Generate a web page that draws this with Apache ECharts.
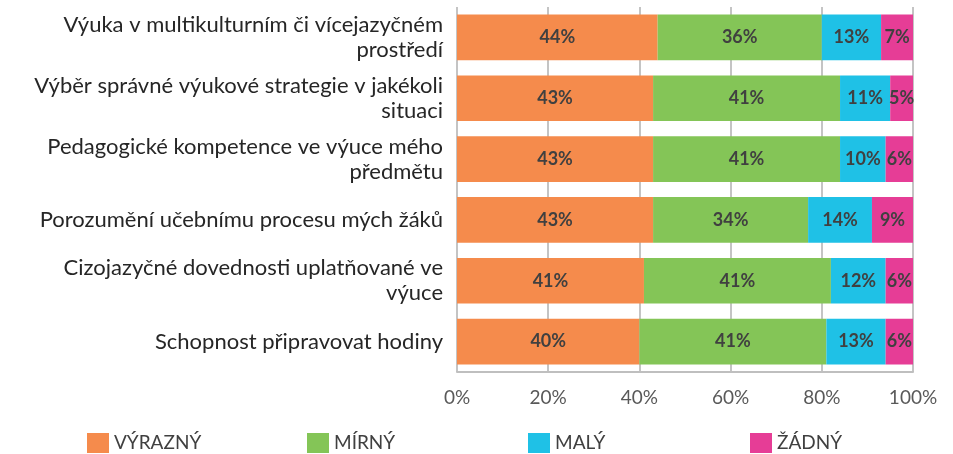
<!DOCTYPE html>
<html>
<head>
<meta charset="utf-8">
<script src="https://cdn.jsdelivr.net/npm/echarts@6/dist/echarts.min.js"></script>
<style>
  html, body { margin: 0; padding: 0; background: #fff; }
  #chart { width: 953px; height: 454px; }
</style>
</head>
<body>
<div id="chart"></div>
<script>
// categories, top to bottom
const categories = [
  'Výuka v multikulturním či vícejazyčném\nprostředí',
  'Výběr správné výukové strategie v jakékoli\nsituaci',
  'Pedagogické kompetence ve výuce mého\npředmětu',
  'Porozumění učebnímu procesu mých žáků',
  'Cizojazyčné dovednosti uplatňované ve\nvýuce',
  'Schopnost připravovat hodiny'
]
const vyrazny = [44, 43, 43, 43, 41, 40]
const mirny = [36, 41, 41, 34, 41, 41]
const maly = [13, 11, 10, 14, 12, 13]
const zadny = [7, 5, 6, 9, 6, 6]

const seriesNames = ['VÝRAZNÝ', 'MÍRNÝ', 'MALÝ', 'ŽÁDNÝ']
const colors = ['#f58b4c', '#84c557', '#1fc1e6', '#e63d96']
const values = [vyrazny, mirny, maly, zadny]

const font = 'Lato, sans-serif'
const legendLeft = [87, 307, 528, 750]

const chart = echarts.init(document.getElementById('chart'))

chart.setOption({
  animation: false,
  textStyle: { fontFamily: font },
  color: colors,
  grid: { left: 457, right: 40, top: 7, bottom: 82 },
  // one legend per item so each sits at its own column
  legend: seriesNames.map((name, i) => ({
    top: 433,
    left: legendLeft[i],
    padding: 0,
    itemWidth: 22,
    itemHeight: 20,
    icon: 'rect',
    textStyle: { fontSize: 19, color: '#404040', fontFamily: font },
    data: [name]
  })),
  xAxis: {
    type: 'value',
    min: 0,
    max: 100,
    interval: 20,
    axisLabel: {
      formatter: '{value}%',
      color: '#595959',
      fontSize: 19,
      margin: 16
    },
    axisLine: { show: true, lineStyle: { color: '#bfbfbf', width: 2 } },
    splitLine: { lineStyle: { color: '#c4c4c4', width: 2 } }
  },
  yAxis: {
    type: 'category',
    inverse: true,
    data: categories,
    axisLine: { show: false },
    axisTick: { show: false },
    axisLabel: {
      color: '#262626',
      fontSize: 22,
      lineHeight: 25,
      margin: 14,
      align: 'right'
    }
  },
  series: values.map((v, i) => ({
    name: seriesNames[i],
    type: 'bar',
    stack: 'total',
    barCategoryGap: '25%',
    data: v,
    label: {
      show: true,
      formatter: '{c}%',
      color: '#404040',
      fontWeight: 'bold',
      fontSize: 18,
      fontFamily: font
    }
  }))
})
</script>
</body>
</html>
